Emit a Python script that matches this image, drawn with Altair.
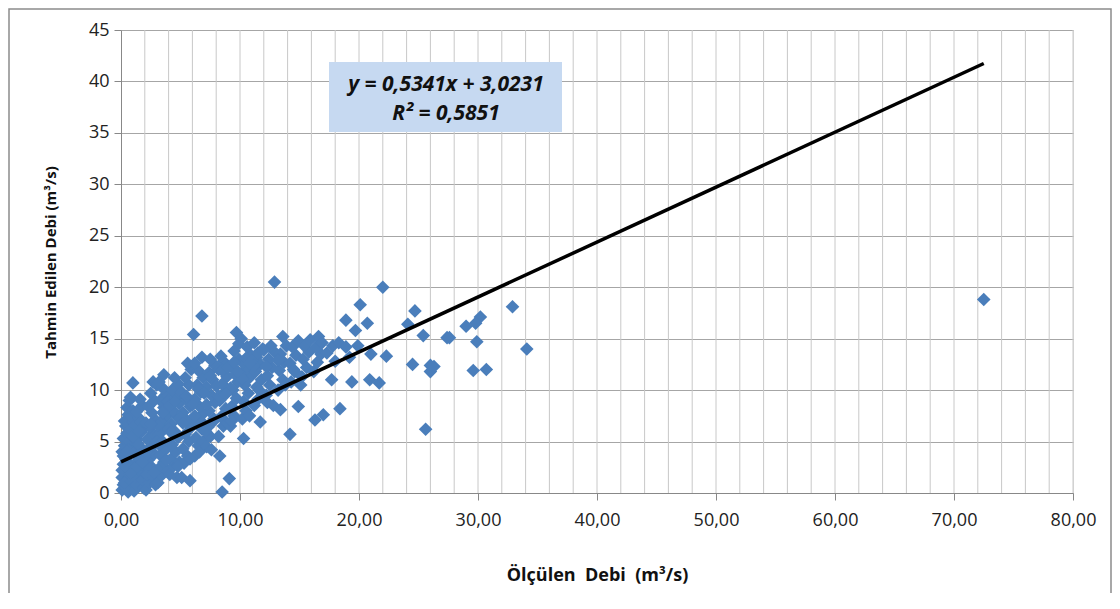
import altair as alt
import pandas as pd

obs = [
    0.1,0.2,0.1,0.3,0.2,0.4,0.1,0.3,0.2,0.5,0.4,0.3,0.6,0.5,0.7,1.0,0.6,0.8,0.5,0.7,0.9,0.6,0.8,0.9,0.7,0.9,0.8,1.0,0.9,1.0,0.4,0.3,0.9,0.2,0.6,0.1,0.4,0.8,
    1.1,1.3,1.2,1.5,1.4,1.1,1.6,1.3,1.7,1.2,1.5,1.3,1.8,1.6,1.9,1.8,1.9,1.7,1.9,1.8,1.4,1.9,1.6,
    2.1,2.4,2.2,2.6,2.3,2.8,2.5,2.2,2.7,2.4,2.9,2.6,2.3,2.8,2.5,2.7,2.9,2.8,2.1,2.9,2.1,3.0,
    3.1,3.4,3.2,3.6,3.3,3.8,3.5,3.2,3.7,3.4,3.9,3.6,3.3,3.8,3.5,3.6,3.9,3.1,3.9,3.2,
    4.1,4.4,4.2,4.6,4.3,4.8,4.5,4.2,4.7,4.4,4.9,4.6,4.3,4.8,4.5,4.9,4.1,4.7,
    5.1,5.8,5.3,5.6,5.2,5.7,5.4,5.9,5.5,5.2,5.8,5.5,5.1,5.7,5.4,5.9,5.6,6.1,
    6.2,6.5,6.3,6.8,6.4,6.9,6.6,6.2,6.7,6.4,6.9,6.5,6.2,6.8,6.8,6.6,6.9,
    7.2,7.5,7.3,7.8,7.4,7.9,7.6,7.2,7.7,7.4,7.9,7.5,7.1,7.6,
    8.3,8.5,8.2,8.6,8.4,8.8,8.3,8.7,8.5,8.9,8.2,8.6,8.9,8.4,
    9.1,9.2,9.5,9.3,9.7,9.4,9.8,9.6,9.2,9.9,9.5,9.7,9.9,9.3,
    10.3,10.2,10.5,10.3,10.7,10.4,10.8,10.5,10.2,10.9,10.6,10.1,10.8,
    11.5,11.7,11.2,11.4,11.8,11.3,11.7,11.4,11.9,11.2,11.6,
    12.8,12.2,12.5,12.3,12.7,12.4,12.9,12.6,12.9,12.3,
    13.4,13.2,13.6,13.3,13.7,13.4,13.9,13.6,13.8,
    14.2,14.9,14.3,14.6,14.2,14.7,14.4,14.9,14.5,
    15.2,15.6,15.3,15.8,15.4,15.9,15.1,
    16.3,17.0,16.2,16.5,16.8,16.4,16.6,16.9,
    17.7,18.0,17.3,17.8,18.4,18.3,18.9,18.9,19.4,19.2,19.7,19.9,20.1,20.7,20.9,21.7,21.0,22.0,22.3,
    24.5,24.1,24.7,25.4,27.4,26.0,26.0,25.6,29.6,30.7,29.9,30.2,29.8,29.0,27.6,26.3,32.9,34.1,72.5,
    0.5,1.0,1.5,2.0,2.5,3.0,3.5,4.0,4.5,5.0,5.5,6.0,6.5,7.0,7.5,8.0,8.5,9.0,9.5,10.0,10.5,11.0,11.5,12.0,
    1.2,2.2,3.2,4.2,5.2,6.2,7.2,8.2,9.2,10.2,11.2,12.2,13.2,
    0.8,1.8,2.8,3.8,4.8,5.8,6.8,7.8,8.8,9.8,10.8,
]
pred = [
    0.3,0.8,1.5,2.1,2.8,3.3,4.0,4.6,5.3,5.8,6.5,7.0,7.6,8.3,9.0,10.7,0.1,0.6,1.2,1.8,2.5,3.0,3.8,4.4,5.0,5.6,6.2,6.9,7.4,8.0,0.5,1.0,1.1,3.6,4.2,2.2,2.6,9.3,
    0.2,0.8,1.6,2.3,3.1,3.9,4.5,5.2,5.9,6.6,7.3,7.9,8.5,9.1,0.5,1.3,2.0,2.8,3.5,4.1,4.8,6.3,6.9,
    0.3,1.0,1.8,2.5,3.2,3.8,4.5,5.2,5.8,6.4,7.1,7.8,8.4,9.0,9.7,10.8,0.8,1.5,2.7,4.9,6.8,10.5,
    1.0,1.7,2.4,3.0,3.7,4.3,5.0,5.7,6.3,7.0,7.6,8.3,9.0,9.6,10.2,11.5,2.1,6.6,8.9,10.8,
    1.8,2.6,3.3,4.0,4.7,5.4,6.0,6.7,7.4,8.0,8.7,9.3,10.0,10.6,11.2,3.0,8.5,1.5,
    1.5,1.2,2.9,3.6,4.3,5.0,5.7,6.4,7.1,7.8,8.4,9.1,9.8,10.5,11.2,12.0,12.6,15.4,
    3.6,4.6,5.4,6.2,7.0,7.7,8.4,9.1,9.8,10.5,11.2,11.9,12.6,13.2,17.2,4.0,5.0,
    4.5,5.5,6.4,7.2,8.0,8.8,9.5,10.3,11.0,11.7,12.4,13.0,6.0,4.2,
    3.6,0.1,5.5,6.5,7.4,8.2,9.0,9.8,10.6,11.3,12.0,12.8,6.8,13.3,
    1.4,6.5,7.5,8.4,9.2,10.0,10.8,11.5,12.3,13.0,13.8,15.6,14.5,7.0,
    5.3,7.2,8.0,8.9,9.7,10.5,11.2,12.0,12.7,13.4,14.2,15.0,7.5,
    9.1,6.9,8.5,10.3,11.0,11.8,12.5,13.2,14.0,14.6,10.0,
    8.5,9.5,10.5,11.4,12.2,13.0,13.7,14.3,20.5,8.8,
    8.1,10.0,11.0,11.9,12.7,13.5,14.3,15.2,10.5,
    5.7,8.4,10.8,11.8,12.6,13.4,14.2,14.8,12.0,
    11.3,12.2,13.0,13.7,14.3,14.9,10.5,
    7.1,7.6,11.8,12.7,13.5,14.2,15.2,14.6,
    11.0,12.8,13.6,14.3,8.2,14.6,14.2,16.8,10.8,13.2,15.8,14.3,18.3,16.5,11.0,10.7,13.5,20.0,13.3,
    12.5,16.4,17.7,15.3,15.1,12.4,11.8,6.2,11.9,12.0,14.7,17.1,16.5,16.2,15.1,12.3,18.1,14.0,18.8,
    4.0,5.5,6.0,3.6,6.7,5.0,7.8,6.2,8.9,7.3,9.4,8.6,10.1,9.7,11.4,10.4,11.9,12.2,12.7,11.6,13.1,12.9,13.6,13.9,
    2.4,4.1,4.7,5.9,6.8,7.5,8.6,9.4,10.2,11.1,12.4,12.3,12.9,
    1.9,3.0,2.0,3.2,2.6,3.3,6.9,7.0,9.6,11.8,12.6,
]

slope = 0.5341
intercept = 3.0231
line_x = [0.0, 72.5]
line_y = [intercept + slope * v for v in line_x]

x_grid = list(range(2, 81, 2))      # minor vertical gridlines
x_ticks = list(range(0, 81, 10))    # labelled ticks
y_ticks = list(range(0, 46, 5))

points = pd.DataFrame({"x": obs, "y": pred})
trend = pd.DataFrame({"x": line_x, "y": line_y})
vgrid = pd.DataFrame({"x": x_grid, "y0": [0] * len(x_grid), "y1": [45] * len(x_grid)})

FONT = "Open Sans"

xscale = alt.Scale(domain=[0, 80], nice=False, zero=True)
yscale = alt.Scale(domain=[0, 45], nice=False)

x_axis = alt.Axis(
    values=x_ticks,
    grid=False,
    labelExpr="replace(format(datum.value, '.2f'), '.', ',')",
    labelOverlap=False,
    labelFlush=False,
    tickColor="#888888",
    tickSize=7,
    domainColor="#888888",
    labelFont=FONT,
    labelFontSize=18,
    labelColor="#222222",
    labelPadding=11,
    title="Ölçülen\u00a0 Debi\u00a0 (m³/s)",
    titleFont=FONT,
    titleFontSize=18,
    titleFontWeight="bold",
    titleColor="#111111",
    titleX=476,
    titleY=82,
    titleAlign="center",
    titleBaseline="middle",
)
y_axis = alt.Axis(
    values=y_ticks,
    grid=True,
    gridColor="#A6A6A6",
    gridWidth=1,
    tickColor="#888888",
    tickSize=7,
    domainColor="#888888",
    labelFont=FONT,
    labelFontSize=18,
    labelColor="#222222",
    labelPadding=5,
    labelFlush=False,
    title="Tahmin Edilen Debi (m³/s)",
    titleFont=FONT,
    titleFontSize=15,
    titleFontWeight="bold",
    titleColor="#111111",
    titleAngle=-90,
    titleX=-71,
    titleY=232,
    titleAlign="center",
    titleBaseline="middle",
)

grid = alt.Chart(vgrid).mark_rule(color="#C8C8C8", strokeWidth=1).encode(
    x=alt.X("x:Q", scale=xscale, axis=x_axis),
    y=alt.Y("y0:Q", scale=yscale, axis=y_axis),
    y2="y1:Q",
)

pts = alt.Chart(points).mark_point(
    shape="diamond", filled=True, size=185, color="#4A7EBB", opacity=1, strokeWidth=0
).encode(
    x=alt.X("x:Q", scale=xscale),
    y=alt.Y("y:Q", scale=yscale),
)

line = alt.Chart(trend).mark_line(color="#000000", strokeWidth=3.5).encode(
    x=alt.X("x:Q", scale=xscale),
    y=alt.Y("y:Q", scale=yscale),
)

box = alt.Chart(pd.DataFrame({"k": [0]})).mark_rect(color="#C6D9F1").encode(
    x=alt.value(208), x2=alt.value(441), y=alt.value(32), y2=alt.value(102)
)
eq1 = alt.Chart(pd.DataFrame({"t": ["y = 0,5341x + 3,0231"]})).mark_text(
    font=FONT, fontSize=21, fontWeight="bold", fontStyle="italic", color="#111111"
).encode(text="t:N", x=alt.value(325), y=alt.value(55))
eq2 = alt.Chart(pd.DataFrame({"t": ["R² = 0,5851"]})).mark_text(
    font=FONT, fontSize=21, fontWeight="bold", fontStyle="italic", color="#111111"
).encode(text="t:N", x=alt.value(325), y=alt.value(84))

frame = alt.Chart(pd.DataFrame({"k": [0]})).mark_rect(
    fill=None, stroke="#8C8C8C", strokeWidth=1.5, clip=False
).encode(x=alt.value(-112), x2=alt.value(990), y=alt.value(-21), y2=alt.value(569))

chart = alt.layer(grid, pts, line, box, eq1, eq2, frame).properties(
    width=952,
    height=463,
    autosize=alt.AutoSizeParams(type="none"),
    padding={"left": 113, "top": 22, "right": 39, "bottom": 100},
).configure_view(
    fill="#F3F6EE", stroke=None
).configure(background="white")

chart.save("out.html", embed_options={"renderer": "svg", "actions": False})
